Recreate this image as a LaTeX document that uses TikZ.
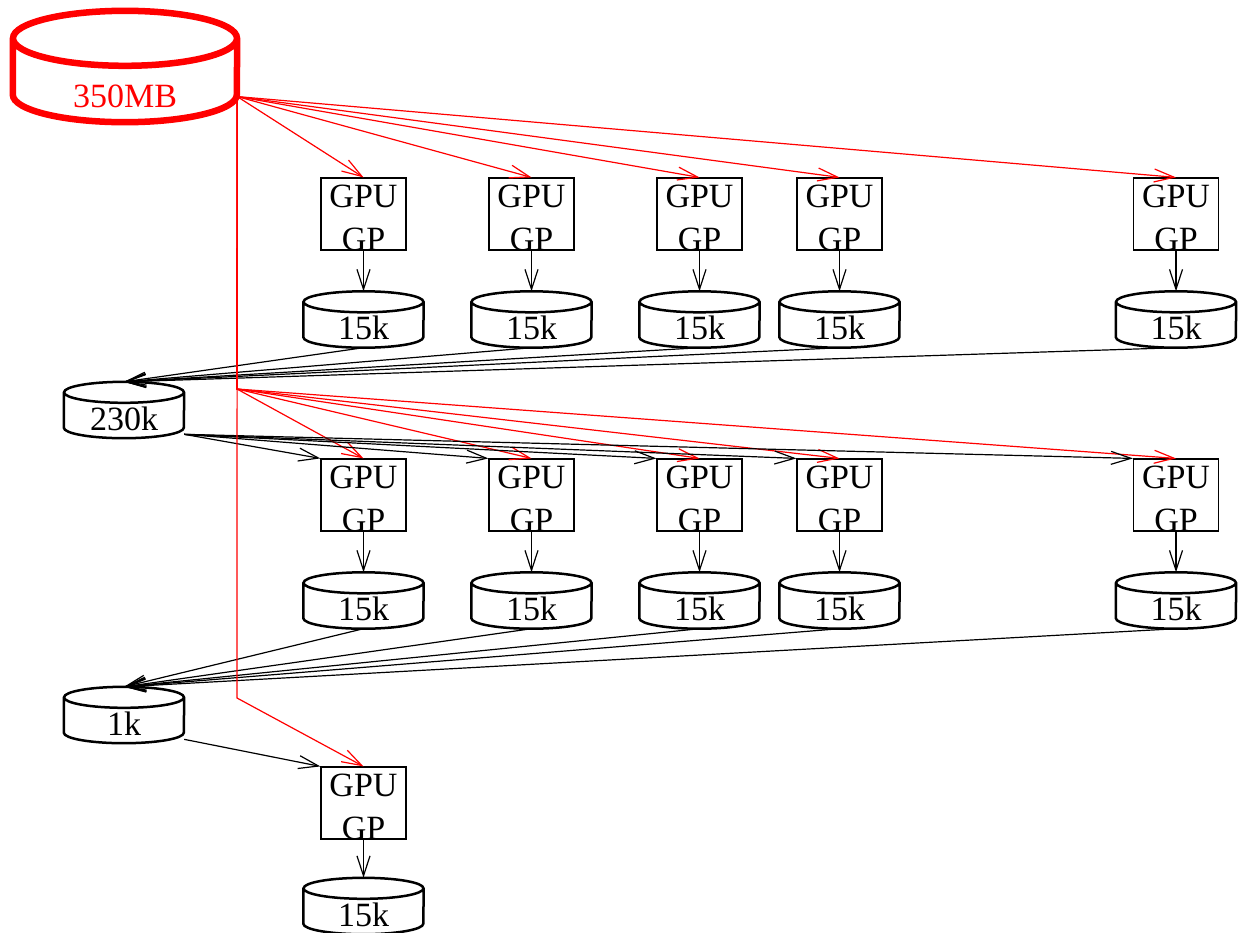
\documentclass[tikz,border=0pt]{standalone}
\usepackage{fontspec}
\setmainfont{Liberation Serif}
\usetikzlibrary{arrows.meta}

\tikzset{
  gpu/.style={draw, line width=1.2pt, minimum width=85pt, minimum height=70pt, inner sep=0pt,
    align=center, text height=72pt, text depth=-2pt, font=\fontsize{34}{43}\selectfont},
  disk/.style={minimum width=120pt, minimum height=56pt, inner sep=0pt,
    text height=48pt, text depth=8pt, font=\fontsize{34}{40}\selectfont},
  bigdisk/.style={minimum width=224pt, minimum height=111pt, inner sep=0pt, text=red,
    text height=96pt, text depth=15pt, font=\fontsize{34}{40}\selectfont},
  link/.style={line width=1.2pt, -{Straight Barb[length=20pt, width=13pt]}},
  rlink/.style={link, red}
}

\begin{document}
\begin{tikzpicture}[x=1pt, y=-1pt]
  \useasboundingbox (0,0) rectangle (1241,932);
  \node[bigdisk] (M) at (125,66.5) {350MB};
  % first layer
  \node[gpu] (G11) at (363.5,214) {GPU\\GP};
  \node[gpu] (G12) at (531.5,214) {GPU\\GP};
  \node[gpu] (G13) at (699.5,214) {GPU\\GP};
  \node[gpu] (G14) at (839.5,214) {GPU\\GP};
  \node[gpu] (G15) at (1176,214) {GPU\\GP};
  \node[disk] (S11) at (363.5,319.5) {15k};
  \node[disk] (S12) at (531.5,319.5) {15k};
  \node[disk] (S13) at (699.5,319.5) {15k};
  \node[disk] (S14) at (839.5,319.5) {15k};
  \node[disk] (S15) at (1176,319.5) {15k};
  \node[disk] (D230) at (124,410) {230k};
  % second layer
  \node[gpu] (G21) at (363.5,495) {GPU\\GP};
  \node[gpu] (G22) at (531.5,495) {GPU\\GP};
  \node[gpu] (G23) at (699.5,495) {GPU\\GP};
  \node[gpu] (G24) at (839.5,495) {GPU\\GP};
  \node[gpu] (G25) at (1176,495) {GPU\\GP};
  \node[disk] (S21) at (363.5,600.5) {15k};
  \node[disk] (S22) at (531.5,600.5) {15k};
  \node[disk] (S23) at (699.5,600.5) {15k};
  \node[disk] (S24) at (839.5,600.5) {15k};
  \node[disk] (S25) at (1176,600.5) {15k};
  \node[disk] (D1) at (124,715) {1k};
  % third layer
  \node[gpu] (G31) at (363.5,803) {GPU\\GP};
  \node[disk] (S31) at (363.5,906) {15k};
  \coordinate (F2) at (237,389);
  \coordinate (F3) at (237,698);

  % cylinder outlines
  \draw[red, line width=6.5pt] ([yshift=-27.5pt]M.north) ellipse [x radius=112pt, y radius=27.5pt]
    ([yshift=-27.5pt]M.north west) -- ([yshift=27.5pt]M.south west)
    arc [start angle=180, end angle=360, x radius=112pt, y radius=27.5pt] -- ([yshift=-27.5pt]M.north east);
  \foreach \n in {S11,S12,S13,S14,S15,S21,S22,S23,S24,S25,S31,D230,D1}
    \draw[line width=2.5pt] ([yshift=-10.5pt]\n.north) ellipse [x radius=60pt, y radius=10.5pt]
      ([yshift=-10.5pt]\n.north west) -- ([yshift=10.5pt]\n.south west)
      arc [start angle=180, end angle=360, x radius=60pt, y radius=10.5pt] -- ([yshift=-10.5pt]\n.north east);

  % data to the first layer
  \draw[rlink] (M.-15) -- (G11.north);
  \draw[rlink] (M.-15) -- (G12.north);
  \draw[rlink] (M.-15) -- (G13.north);
  \draw[rlink] (M.-15) -- (G14.north);
  \draw[rlink] (M.-15) -- (G15.north);
  \draw[link] (G11) -- (S11);
  \draw[link] (G12) -- (S12);
  \draw[link] (G13) -- (S13);
  \draw[link] (G14) -- (S14);
  \draw[link] (G15) -- (S15);
  \draw[link] (S11.south) -- (D230.north);
  \draw[link] (S12.south) -- (D230.north);
  \draw[link] (S13.south) -- (D230.north);
  \draw[link] (S14.south) -- (D230.north);
  \draw[link] (S15.south) -- (D230.north);
  % second layer
  \draw[rlink] (M.-15) -- (F2) -- (G21.north);
  \draw[rlink] (M.-15) -- (F2) -- (G22.north);
  \draw[rlink] (M.-15) -- (F2) -- (G23.north);
  \draw[rlink] (M.-15) -- (F2) -- (G24.north);
  \draw[rlink] (M.-15) -- (F2) -- (G25.north);
  \draw[link] (D230.-22) -- (G21.north west);
  \draw[link] (D230.-22) -- (G22.north west);
  \draw[link] (D230.-22) -- (G23.north west);
  \draw[link] (D230.-22) -- (G24.north west);
  \draw[link] (D230.-22) -- (G25.north west);
  \draw[link] (G21) -- (S21);
  \draw[link] (G22) -- (S22);
  \draw[link] (G23) -- (S23);
  \draw[link] (G24) -- (S24);
  \draw[link] (G25) -- (S25);
  \draw[link] (S21.south) -- (D1.north);
  \draw[link] (S22.south) -- (D1.north);
  \draw[link] (S23.south) -- (D1.north);
  \draw[link] (S24.south) -- (D1.north);
  \draw[link] (S25.south) -- (D1.north);
  % third layer
  \draw[rlink] (M.-15) -- (F3) -- (G31.north);
  \draw[link] (D1.-22) -- (G31.north west);
  \draw[link] (G31) -- (S31);
\end{tikzpicture}
\end{document}
